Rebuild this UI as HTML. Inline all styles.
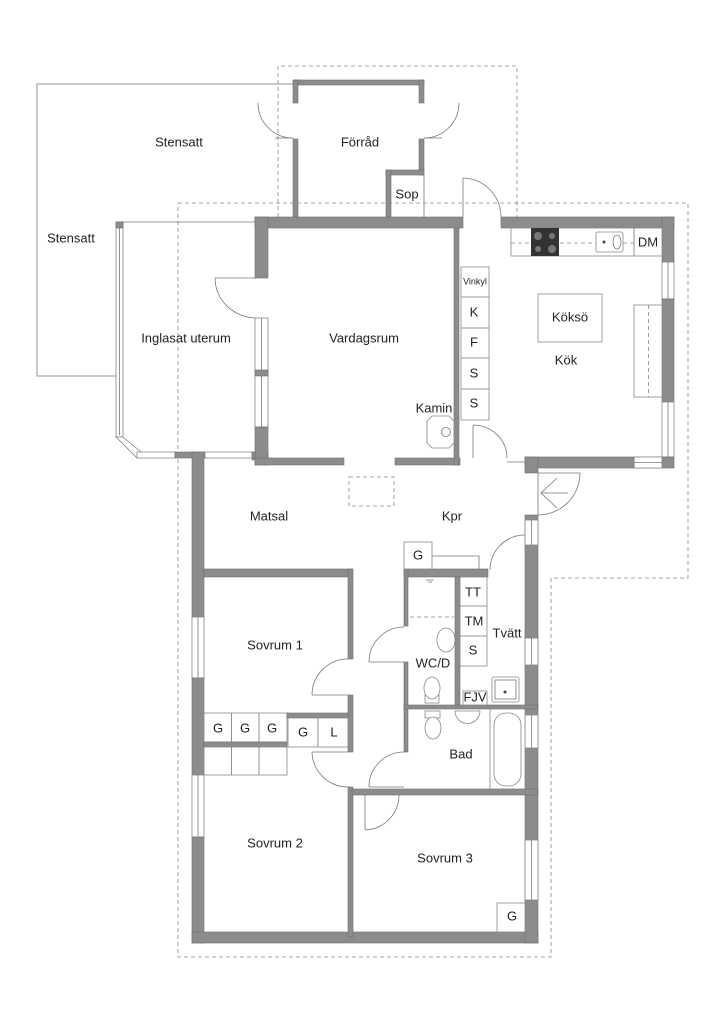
<!DOCTYPE html>
<html><head><meta charset="utf-8"><style>
html,body{margin:0;padding:0;background:#fff}
svg{display:block}
text{font-family:"Liberation Sans",sans-serif;font-size:13px;fill:#222;text-anchor:middle;dominant-baseline:middle}
.w{fill:#8c8c8c;stroke:#6e6e6e;stroke-width:0.6}
.t{fill:none;stroke:#777;stroke-width:0.8}
.d{fill:none;stroke:#888;stroke-width:0.8;stroke-dasharray:4 3}
.win{fill:#fff;stroke:#888;stroke-width:0.8}
.b{fill:#fff;stroke:#888;stroke-width:0.8}
</style></head><body>
<svg width="724" height="1024" viewBox="0 0 724 1024" xmlns="http://www.w3.org/2000/svg">
<path class="d" d="M278,217 V66 H517 V217"/>
<path class="d" d="M178,203 H688 V578 H551 V957 H178 Z"/>
<path class="t" d="M293,84 H37 V376 H116"/>
<rect class="w" x="293" y="80" width="131" height="5"/>
<rect class="w" x="293" y="80" width="5" height="23"/>
<rect class="w" x="293" y="139" width="5" height="78"/>
<rect class="w" x="419" y="80" width="5" height="23"/>
<rect class="w" x="419" y="139" width="5" height="36"/>
<rect class="w" x="386" y="170" width="38" height="5"/>
<rect class="w" x="386" y="170" width="5" height="47"/>
<line class="t" x1="424" y1="175" x2="424" y2="217"/>
<path class="t" d="M258,103 A35,35 0 0 0 293,138 M424,138 A35,35 0 0 0 459,103"/>
<line class="t" x1="275" y1="138" x2="293" y2="138"/><line class="t" x1="424" y1="138" x2="442" y2="138"/>
<line class="t" x1="116" y1="222" x2="257" y2="222"/>
<rect class="win" x="116" y="222" width="7" height="215"/>
<line class="t" x1="119.5" y1="228" x2="119.5" y2="435"/>
<rect class="w" x="116" y="222" width="7" height="6"/>
<polygon class="win" points="116,437 123,437 141,452 137,458"/>
<rect class="win" x="137" y="452" width="38" height="6"/>
<rect class="w" x="175" y="452" width="30" height="6"/>
<rect class="win" x="205" y="452" width="47" height="6"/>
<rect class="w" x="252" y="452" width="16" height="8"/>
<path class="t" d="M215,278 H257 M215,278 A42,40 0 0 0 257,318"/>
<rect class="w" x="255" y="217" width="208" height="11"/>
<rect class="w" x="255" y="217" width="13" height="61"/>
<rect class="win" x="255" y="318" width="13" height="109"/>
<line class="t" x1="261.5" y1="318" x2="261.5" y2="427"/>
<rect class="w" x="255" y="370" width="13" height="6"/>
<rect class="w" x="255" y="427" width="13" height="38"/>
<rect class="w" x="255" y="458" width="89" height="7"/>
<rect class="w" x="395" y="458" width="65" height="7"/>
<rect class="w" x="454" y="228" width="5" height="237"/>
<path class="t" d="M463,178 V217 M463,178 A39,39 0 0 1 501,217"/>
<polygon class="b" points="432,416 449,416 454,421 454,443 449,448 432,448 427,443 427,421"/>
<circle class="t" cx="446" cy="432" r="4.5"/>
<rect class="w" x="501" y="217" width="173" height="11"/>
<rect class="w" x="662" y="217" width="12" height="45"/>
<rect class="win" x="662" y="262" width="12" height="37"/>
<line class="t" x1="668" y1="262" x2="668" y2="299"/>
<rect class="w" x="662" y="299" width="12" height="103"/>
<rect class="win" x="662" y="402" width="12" height="55"/>
<line class="t" x1="668" y1="402" x2="668" y2="457"/>
<rect class="w" x="634" y="457" width="40" height="11"/>
<rect class="win" x="634" y="457" width="28" height="11"/>
<line class="t" x1="634" y1="462.5" x2="662" y2="462.5"/>
<rect class="w" x="525" y="457" width="109" height="11"/>
<line class="t" x1="507" y1="462" x2="525" y2="462"/>
<rect class="w" x="525" y="457" width="13" height="16"/>
<path class="t" d="M473,425 V458 M473,425 A34,33 0 0 1 507,458"/>
<rect class="b" x="511" y="228" width="151" height="28"/>
<line class="d" x1="511" y1="243" x2="634" y2="243"/>
<rect x="531" y="228" width="28" height="28" fill="#333"/>
<circle cx="538" cy="236" r="4" fill="#777"/><circle cx="552" cy="236" r="3" fill="#777"/>
<circle cx="538" cy="249" r="3" fill="#777"/><circle cx="552" cy="249" r="4" fill="#777"/>
<rect class="b" x="596" y="232" width="27" height="20" rx="2"/>
<circle cx="604" cy="242" r="1.5" fill="#444"/><ellipse class="t" cx="617" cy="242" rx="4" ry="7"/>
<line class="t" x1="634" y1="228" x2="634" y2="256"/>
<rect class="b" x="461" y="267" width="28" height="153"/>
<path class="t" d="M461,297 H489 M461,328 H489 M461,358 H489 M461,389 H489"/>
<rect class="b" x="538" y="294" width="64" height="48"/>
<rect class="b" x="634" y="305" width="28" height="92"/>
<line class="d" x1="648.5" y1="305" x2="648.5" y2="397"/>
<rect x="349" y="477" width="45" height="29" class="d"/>
<rect class="w" x="192" y="452" width="12" height="165"/>
<rect class="win" x="192" y="617" width="12" height="61"/>
<line class="t" x1="198" y1="617" x2="198" y2="678"/>
<rect class="w" x="192" y="678" width="12" height="97"/>
<rect class="win" x="192" y="775" width="12" height="62"/>
<line class="t" x1="198" y1="775" x2="198" y2="837"/>
<rect class="w" x="192" y="837" width="12" height="106"/>
<rect class="w" x="192" y="932" width="346" height="11"/>
<rect class="w" x="525" y="515" width="13" height="428"/>
<rect class="win" x="525" y="520" width="13" height="25"/><line class="t" x1="531.5" y1="520" x2="531.5" y2="545"/>
<rect class="win" x="525" y="638" width="13" height="27"/><line class="t" x1="531.5" y1="638" x2="531.5" y2="665"/>
<rect class="win" x="525" y="715" width="13" height="33"/><line class="t" x1="531.5" y1="715" x2="531.5" y2="748"/>
<rect class="win" x="525" y="840" width="13" height="60"/><line class="t" x1="531.5" y1="840" x2="531.5" y2="900"/>
<path class="t" d="M538,473 V515 M538,473 H580 M580,473 A42,42 0 0 1 538,515"/>
<path class="t" d="M557,478 L541,493 L557,508 M541,493 H568" stroke-width="1.2"/>
<path class="t" d="M525,535 A35,35 0 0 0 490,570"/>
<rect class="w" x="204" y="569" width="148" height="8"/>
<rect class="w" x="348" y="569" width="5" height="90"/>
<rect class="w" x="348" y="695" width="5" height="57"/>
<rect class="w" x="348" y="787" width="5" height="150"/>
<path class="t" d="M312,695 H348 M348,659 A36,36 0 0 0 312,695"/>
<path class="t" d="M312,752 H348 M312,752 A36,36 0 0 0 348,787"/>
<rect class="b" x="204" y="713" width="83" height="29"/>
<path class="t" d="M231.5,713 V742 M259,713 V742"/>
<rect class="w" x="204" y="742" width="83" height="5"/>
<rect class="w" x="287" y="713" width="61" height="5"/>
<rect class="b" x="288" y="718" width="60" height="29"/>
<line class="t" x1="318" y1="718" x2="318" y2="747"/>
<rect class="b" x="204" y="747" width="83" height="28"/>
<path class="t" d="M231.5,747 V775 M259,747 V775"/>
<rect class="w" x="352" y="789" width="186" height="6"/>
<path class="t" d="M365,795 V830 M365,830 A35,35 0 0 0 399,795"/>
<rect class="b" x="497" y="903" width="28" height="29"/>
<rect class="w" x="404" y="569" width="84" height="8"/>
<rect class="w" x="404" y="569" width="4" height="57"/>
<rect class="w" x="404" y="662" width="4" height="90"/>
<rect class="w" x="455" y="577" width="5" height="128"/>
<rect class="w" x="404" y="705" width="134" height="4"/>
<rect class="b" x="404" y="542" width="28" height="27"/>
<path class="t" d="M432,556 H479 V569"/>
<path class="t" d="M369,662 H404 M369,662 A35,35 0 0 1 404,627"/>
<path class="t" d="M369,787 H404 M369,787 A35,35 0 0 1 404,752"/>
<line class="d" x1="410" y1="617" x2="454" y2="617"/>
<path class="t" d="M426,580 h8 M428,582 h4"/>
<rect class="b" x="460" y="577" width="27" height="89"/>
<path class="t" d="M460,606 H487 M460,636 H487"/>
<rect class="b" x="463" y="691" width="24" height="14"/>
<rect class="b" x="492" y="677" width="27" height="25" rx="2"/>
<rect class="t" x="495" y="680" width="21" height="19"/>
<circle cx="505" cy="692" r="1.5" fill="#444"/>
<ellipse class="b" cx="446" cy="640" rx="9" ry="12"/>
<rect class="b" x="425" y="695" width="14" height="8"/>
<ellipse class="b" cx="432" cy="688" rx="8" ry="11"/>
<rect class="b" x="425" y="711" width="15" height="7"/>
<ellipse class="b" cx="433" cy="728" rx="8" ry="11"/>
<path class="b" d="M455,711 H480 A12,12 0 0 1 455,711 Z"/>
<rect class="b" x="490" y="709" width="35" height="80"/>
<rect class="b" x="494" y="713" width="27" height="73" rx="12"/>
<text x="179" y="143">Stensatt</text>
<text x="71" y="239">Stensatt</text>
<text x="360" y="143">Förråd</text>
<text x="407" y="195">Sop</text>
<text x="186" y="339">Inglasat uterum</text>
<text x="364" y="339">Vardagsrum</text>
<text x="434" y="409">Kamin</text>
<text x="566" y="361">Kök</text>
<text x="570" y="318">Köksö</text>
<text x="648" y="243">DM</text>
<text x="475" y="282" style="font-size:9px">Vinkyl</text>
<text x="474" y="313">K</text>
<text x="474" y="343">F</text>
<text x="474" y="374">S</text>
<text x="474" y="404">S</text>
<text x="269" y="517">Matsal</text>
<text x="452" y="517">Kpr</text>
<text x="418" y="556">G</text>
<text x="473" y="593">TT</text>
<text x="474" y="622">TM</text>
<text x="473" y="651">S</text>
<text x="507" y="634">Tvätt</text>
<text x="433" y="664">WC/D</text>
<text x="475" y="698">FJV</text>
<text x="275" y="646">Sovrum 1</text>
<text x="218" y="729">G</text>
<text x="245" y="729">G</text>
<text x="272" y="729">G</text>
<text x="303" y="733">G</text>
<text x="334" y="733">L</text>
<text x="461" y="755">Bad</text>
<text x="275" y="844">Sovrum 2</text>
<text x="445" y="859">Sovrum 3</text>
<text x="512" y="917">G</text>
</svg>
</body></html>
